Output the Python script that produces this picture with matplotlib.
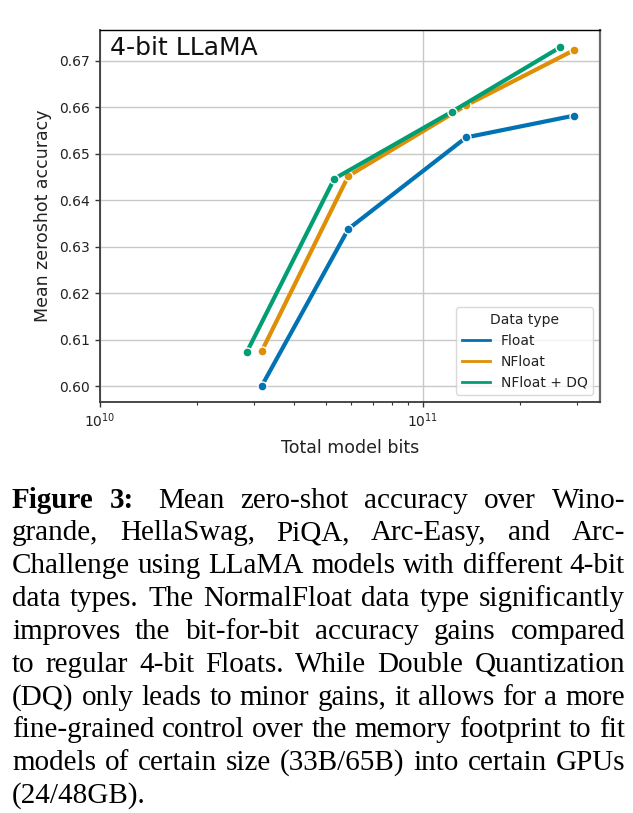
import matplotlib
matplotlib.use("Agg")
import matplotlib.pyplot as plt
from matplotlib.ticker import LogLocator, NullFormatter
from matplotlib.lines import Line2D

# ---------------- data ----------------
series_names = ["Float", "NFloat", "NFloat + DQ"]
bits_float = [3.17e10, 5.87e10, 1.36e11, 2.94e11]
acc_float = [0.6001, 0.6338, 0.6535, 0.6582]
bits_nfloat = [3.17e10, 5.87e10, 1.36e11, 2.94e11]
acc_nfloat = [0.6076, 0.6452, 0.6604, 0.6723]
bits_dq = [2.85e10, 5.31e10, 1.227e11, 2.66e11]
acc_dq = [0.6074, 0.6446, 0.6590, 0.6729]
y_ticks = [0.60, 0.61, 0.62, 0.63, 0.64, 0.65, 0.66, 0.67]

caption_lines = [
    "Figure 3: Mean zero-shot accuracy over Wino-",
    "grande, HellaSwag, PiQA, Arc-Easy, and Arc-",
    "Challenge using LLaMA models with different 4-bit",
    "data types. The NormalFloat data type significantly",
    "improves the bit-for-bit accuracy gains compared",
    "to regular 4-bit Floats. While Double Quantization",
    "(DQ) only leads to minor gains, it allows for a more",
    "fine-grained control over the memory footprint to fit",
    "models of certain size (33B/65B) into certain GPUs",
    "(24/48GB).",
]

colors = ["#0173B2", "#DE8F05", "#029E73"]

W, H, DPI = 633, 813, 100
fig = plt.figure(figsize=(W / DPI, H / DPI), dpi=DPI)
fig.patch.set_facecolor("white")

ax = fig.add_axes([100 / W, 1 - 402 / H, 500 / W, 372 / H])

data = [(bits_float, acc_float), (bits_nfloat, acc_nfloat), (bits_dq, acc_dq)]
for (xs, ys), name, c in zip(data, series_names, colors):
    ax.plot(xs, ys, color=c, lw=3, marker="o", markersize=6.5,
            markeredgecolor="white", markeredgewidth=1.0, label=name,
            solid_capstyle="butt")

ax.set_xscale("log")
ax.set_xlim(1e10, 3.53e11)
ax.set_ylim(0.5966, 0.6766)
ax.set_yticks(y_ticks)
ax.set_yticklabels([f"{v:.2f}" for v in y_ticks])
ax.xaxis.set_major_locator(LogLocator(base=10))
ax.xaxis.set_minor_locator(LogLocator(base=10, subs=range(2, 10)))
ax.xaxis.set_minor_formatter(NullFormatter())

ax.grid(True, which="major", color="#c8c8c8", lw=1.0)
ax.set_axisbelow(True)

txt_col = "#222222"
ax.tick_params(axis="both", which="major", labelsize=10, colors="#333333",
               labelcolor=txt_col, length=3.5, width=1.0)
ax.tick_params(axis="x", which="minor", length=2.5, width=0.8, colors="#333333")

for side in ["left", "bottom"]:
    ax.spines[side].set_color("#3a3a3a")
    ax.spines[side].set_linewidth(1.3)
ax.spines["right"].set_color("#6a6a6a")
ax.spines["right"].set_linewidth(1.6)
ax.spines["top"].set_color("black")
ax.spines["top"].set_linewidth(1.0)

ax.set_xlabel("Total model bits", fontsize=12.5, color=txt_col, labelpad=6)
ax.set_ylabel("Mean zeroshot accuracy", fontsize=12.5, color=txt_col, labelpad=5)

ax.text(0.02, 0.985, "4-bit LLaMA", transform=ax.transAxes, fontsize=18,
        va="top", ha="left", color="#111111")

handles = [Line2D([], [], color=c, lw=2) for c in colors]
leg = ax.legend(handles, series_names, title="Data type", loc="lower right",
                fontsize=10, title_fontsize=10, frameon=True, fancybox=True,
                borderaxespad=0.5, handlelength=2.0)
leg.get_frame().set_edgecolor("#d0d0d0")
leg.get_frame().set_linewidth(1.0)
for t in leg.get_texts():
    t.set_color(txt_col)
leg.get_title().set_color(txt_col)

# ---------------- caption (justified) ----------------
serif = ["Liberation Serif", "DejaVu Serif"]
cap_size = 21
left_px, right_px = 12, 625
base0 = 507.7
line_gap = 32.8

fig.canvas.draw()
renderer = fig.canvas.get_renderer()

for i, line in enumerate(caption_lines):
    words = line.split(" ")
    y = 1 - (base0 + i * line_gap) / H
    objs = []
    bold_count = 2 if i == 0 else 0
    for j, w in enumerate(words):
        weight = "bold" if j < bold_count else "normal"
        t = fig.text(0, y, w, fontsize=cap_size, family=serif, weight=weight,
                     va="baseline", ha="left", color="black")
        objs.append(t)
    widths = [o.get_window_extent(renderer).width for o in objs]
    last = (i == len(caption_lines) - 1)
    if last or len(words) == 1:
        space = cap_size * DPI / 72 * 0.25
        gaps = [space] * (len(words) - 1)
    else:
        weights = [1.0] * (len(words) - 1)
        if i == 0:
            weights[1] = 1.5
        total_gap = (right_px - left_px) - sum(widths)
        unit = total_gap / sum(weights)
        gaps = [unit * wt for wt in weights]
    x = left_px
    for j, o in enumerate(objs):
        o.set_x(x / W)
        x += widths[j]
        if j < len(gaps):
            x += gaps[j]

fig.savefig("out.png", dpi=DPI)
